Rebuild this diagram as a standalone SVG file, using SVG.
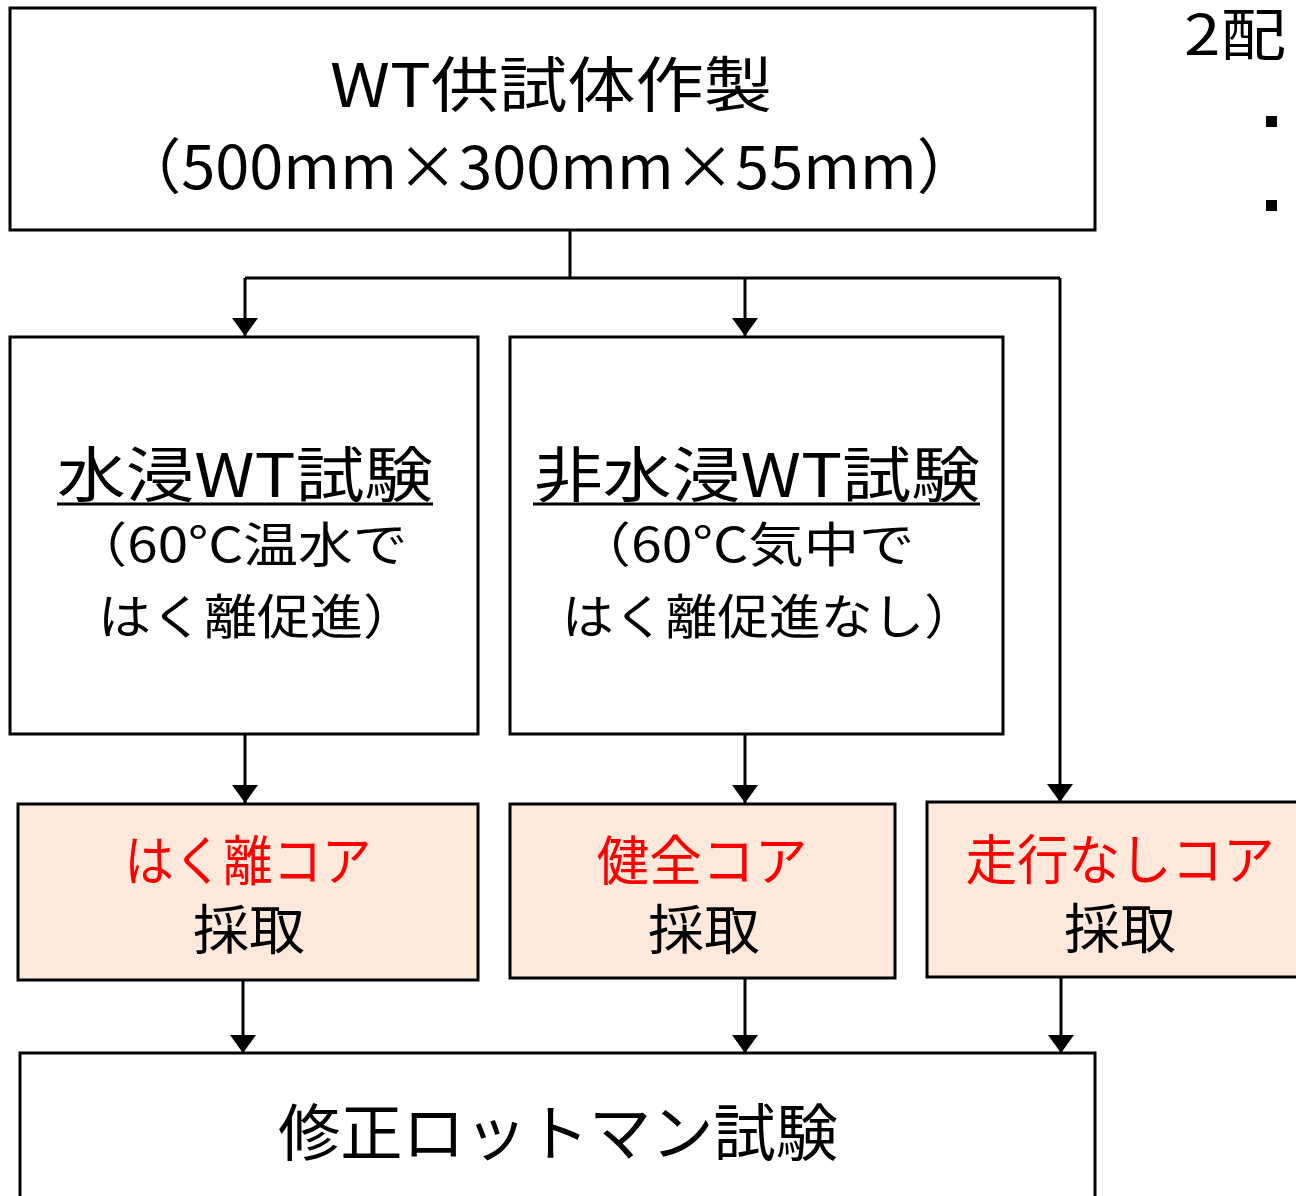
<svg xmlns="http://www.w3.org/2000/svg" width="1296" height="1196" viewBox="0 0 1296 1196">
<style>
.box{fill:#ffffff;stroke:#000;stroke-width:3}
.core{fill:#fce9db;stroke:#000;stroke-width:3}
.t{font-family:"Noto Sans CJK JP","Noto Sans",sans-serif;fill:#000;text-anchor:middle}
.red{fill:#ff0000}
.c{stroke:#000;stroke-width:3;fill:none}
</style>
<defs>
<marker id="ah" markerUnits="userSpaceOnUse" markerWidth="18" markerHeight="26" refX="18" refY="13" orient="auto" viewBox="0 0 18 26">
<path d="M0,0 L18,13 L0,26 z" fill="#000"/>
</marker>
</defs>
<rect width="1296" height="1196" fill="#fff"/>

<g id="connectors">
<path class="c" d="M570,230 V278 M245,278 H1060"/>
<path class="c" d="M245,278 V336" marker-end="url(#ah)"/>
<path class="c" d="M745,278 V336" marker-end="url(#ah)"/>
<path class="c" d="M1060,278 V802" marker-end="url(#ah)"/>
<path class="c" d="M245,734 V803" marker-end="url(#ah)"/>
<path class="c" d="M745,734 V803" marker-end="url(#ah)"/>
<path class="c" d="M243,980 V1053" marker-end="url(#ah)"/>
<path class="c" d="M745,978 V1053" marker-end="url(#ah)"/>
<path class="c" d="M1061,977 V1053" marker-end="url(#ah)"/>
</g>

<g id="node-top">
<rect class="box" x="10" y="8" width="1085" height="222"/>
<text class="t" x="551" y="107" font-size="60" textLength="442" lengthAdjust="spacingAndGlyphs">WT供試体作製</text>
<text class="t" x="549" y="189" font-size="60" textLength="858" lengthAdjust="spacingAndGlyphs">（500mm×300mm×55mm）</text>
</g>

<g id="node-wet">
<rect class="box" x="10" y="337" width="468" height="397"/>
<text class="t" x="245" y="497" font-size="60" textLength="376" lengthAdjust="spacingAndGlyphs">水浸WT試験</text>
<line x1="57" y1="504" x2="433" y2="504" stroke="#000" stroke-width="3"/>
<text class="t" x="240" y="562" font-size="48" textLength="335" lengthAdjust="spacingAndGlyphs">（60°C温水で</text>
<text class="t" x="257" y="634" font-size="48" textLength="318" lengthAdjust="spacingAndGlyphs">はく離促進）</text>
</g>

<g id="node-dry">
<rect class="box" x="510" y="337" width="493" height="397"/>
<text class="t" x="757" y="497" font-size="60" textLength="446" lengthAdjust="spacingAndGlyphs">非水浸WT試験</text>
<line x1="533" y1="504" x2="980" y2="504" stroke="#000" stroke-width="3"/>
<text class="t" x="745" y="562" font-size="48" textLength="339" lengthAdjust="spacingAndGlyphs">（60°C気中で</text>
<text class="t" x="769" y="634" font-size="48" textLength="414" lengthAdjust="spacingAndGlyphs">はく離促進なし）</text>
</g>

<g id="node-core1">
<rect class="core" x="18" y="804" width="460" height="176"/>
<text class="t red" x="248" y="881" font-size="54" textLength="247" lengthAdjust="spacingAndGlyphs">はく離コア</text>
<text class="t" x="249" y="950" font-size="54" textLength="112" lengthAdjust="spacingAndGlyphs">採取</text>
</g>

<g id="node-core2">
<rect class="core" x="510" y="804" width="385" height="174"/>
<text class="t red" x="702" y="881" font-size="54" textLength="211" lengthAdjust="spacingAndGlyphs">健全コア</text>
<text class="t" x="704" y="950" font-size="54" textLength="112" lengthAdjust="spacingAndGlyphs">採取</text>
</g>

<g id="node-core3">
<rect class="core" x="927" y="802" width="400" height="175"/>
<text class="t red" x="1120" y="880" font-size="54" textLength="309" lengthAdjust="spacingAndGlyphs">走行なしコア</text>
<text class="t" x="1120" y="949" font-size="54" textLength="112" lengthAdjust="spacingAndGlyphs">採取</text>
</g>

<g id="node-bottom">
<rect class="box" x="20" y="1053" width="1075" height="170"/>
<text class="t" x="558" y="1156" font-size="62" textLength="560" lengthAdjust="spacingAndGlyphs">修正ロットマン試験</text>
</g>

<g id="side-note">
<text x="1184" y="55" font-family="Noto Sans CJK JP, sans-serif" font-size="56" textLength="102" lengthAdjust="spacingAndGlyphs">2配</text>
<rect x="1266" y="116" width="11" height="11" fill="#000"/>
<rect x="1266" y="200" width="11" height="11" fill="#000"/>
</g>
</svg>
